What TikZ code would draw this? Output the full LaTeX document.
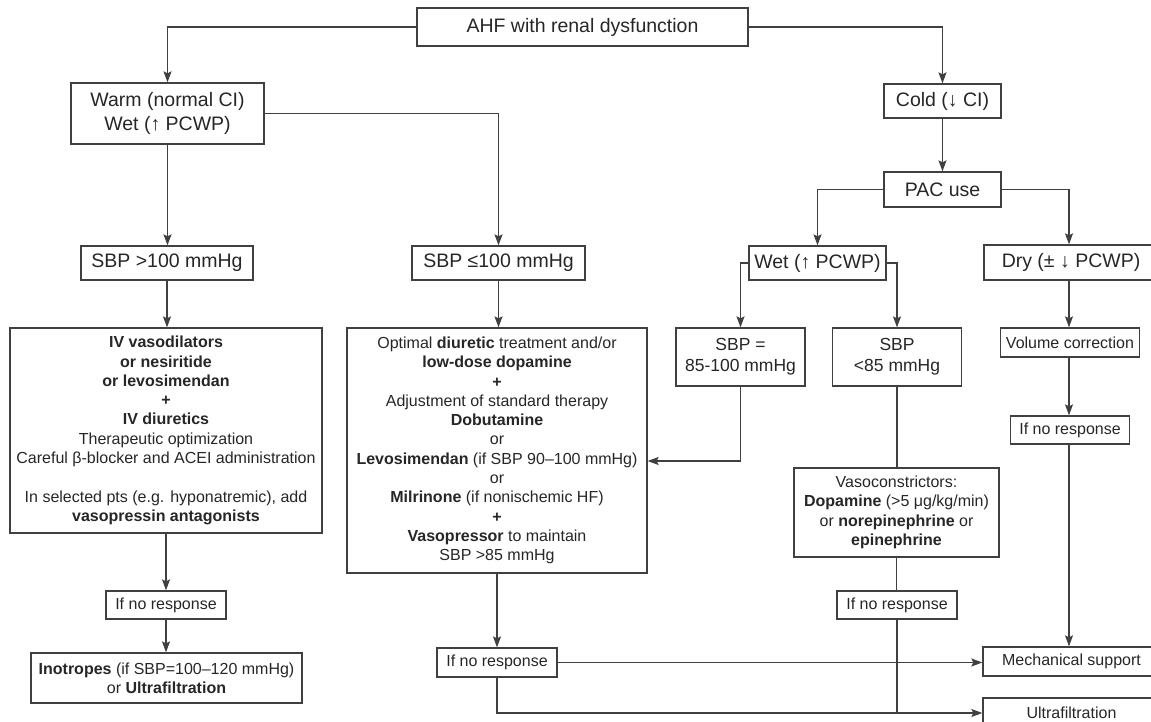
\documentclass[tikz,border=0pt]{standalone}
\usepackage{fontspec}
\setmainfont{Liberation Sans}
\usetikzlibrary{arrows.meta}
\definecolor{ink}{gray}{0.25}
\definecolor{txt}{gray}{0.15}
\begin{document}
\begin{tikzpicture}[x=1pt,y=-1pt,
  box/.style={draw=ink,line width=1.3pt,rectangle,inner sep=0pt,align=center,text=txt},
  big/.style={box,font=\fontsize{19.5}{24}\selectfont},
  mid/.style={box,font=\fontsize{17.5}{21}\selectfont},
  body/.style={box,font=\fontsize{16}{19.3}\selectfont},
  arr/.style={draw=ink,line width=1.3pt,-{Stealth[length=11pt,width=8pt,inset=2pt]}},
  ln/.style={draw=ink,line width=1.3pt}]
\useasboundingbox (0,0) rectangle (1151,722);
% top level
\node[big,minimum width=331pt,minimum height=38pt] (ahf) at (582.5,27) {AHF with renal dysfunction};
\node[big,minimum width=193pt,minimum height=61pt] (warm) at (167.5,113.5) {Warm (normal CI)\\Wet (↑ PCWP)};
\node[big,minimum width=117pt,minimum height=34pt] (cold) at (942.5,101) {Cold (↓ CI)};
\node[big,minimum width=117pt,minimum height=35pt] (pac) at (942.5,189.5) {PAC use};
% second level
\node[big,minimum width=172pt,minimum height=34pt] (sbpa) at (167,263) {SBP >100 mmHg};
\node[big,minimum width=173pt,minimum height=34pt] (sbpb) at (498.5,263) {SBP ≤100 mmHg};
\node[big,minimum width=137pt,minimum height=34pt] (wet) at (817.5,263) {Wet (↑ PCWP)};
\node[big,minimum width=174pt,minimum height=35pt] (dry) at (1071,262.5) {Dry (± ↓ PCWP)};
% third level
\node[mid,minimum width=129pt,minimum height=58pt] (sbpc) at (740.5,357) {SBP =\\85-100 mmHg};
\node[mid,minimum width=129pt,minimum height=58pt] (sbpd) at (897,357) {SBP\\<85 mmHg};
\node[body,minimum width=139pt,minimum height=29pt] (vol) at (1070,342.5) {Volume correction};
% treatment boxes
\node[body,minimum width=312pt,minimum height=205pt] (iv) at (166,430.5) {\textbf{IV vasodilators}\\\textbf{or nesiritide}\\\textbf{or levosimendan}\\\textbf{+}\\\textbf{IV diuretics}\\Therapeutic optimization\\Careful β-blocker and ACEI administration\\[19.3pt]In selected pts (e.g. hyponatremic), add\\\textbf{vasopressin antagonists}};
\node[body,minimum width=300pt,minimum height=245pt] (opt) at (497,450.5) {Optimal \textbf{diuretic} treatment and/or\\\textbf{low-dose dopamine}\\\textbf{+}\\Adjustment of standard therapy\\\textbf{Dobutamine}\\or\\\textbf{Levosimendan} (if SBP 90–100 mmHg)\\or\\\textbf{Milrinone} (if nonischemic HF)\\\textbf{+}\\\textbf{Vasopressor} to maintain\\SBP >85 mmHg};
\node[body,minimum width=205pt,minimum height=89pt] (vaso) at (896.5,512.5) {Vasoconstrictors:\\\textbf{Dopamine} (>5 μg/kg/min)\\or \textbf{norepinephrine} or\\\textbf{epinephrine}};
% no response boxes
\node[body,minimum width=120pt,minimum height=28pt] (nr1) at (166,605) {If no response};
\node[body,minimum width=120pt,minimum height=29pt] (nr2) at (497,662.5) {If no response};
\node[body,minimum width=120pt,minimum height=28pt] (nr3) at (897,605) {If no response};
\node[body,minimum width=119pt,minimum height=28pt] (nr4) at (1070,430) {If no response};
% final boxes
\node[body,minimum width=271pt,minimum height=50pt] (ino) at (166.5,678) {\textbf{Inotropes} (if SBP=100–120 mmHg)\\or \textbf{Ultrafiltration}};
\node[body,minimum width=177pt,minimum height=29pt] (mech) at (1071.5,661.5) {Mechanical support};
\node[body,minimum width=177pt,minimum height=30pt] (ultra) at (1071.5,713) {Ultrafiltration};
% connectors
\draw[arr] (ahf.west) -| (warm.north);
\draw[arr] (ahf.east) -| (cold.north);
\draw[arr] (warm.south) -- (warm.south |- sbpa.north);
\draw[arr] (warm.east) -| (sbpb.north);
\draw[arr] (cold.south) -- (pac.north);
\draw[arr] (pac.west) -| (wet.north);
\draw[arr] (pac.east) -| ([xshift=-2pt]dry.north);
\draw[arr] (sbpa.south) -- (sbpa.south |- iv.north);
\draw[arr] (sbpb.south) -- (sbpb.south |- opt.north);
\draw[arr] (wet.west) -| (sbpc.north);
\draw[arr] (wet.east) -| (sbpd.north);
\draw[arr] ([xshift=-2pt]dry.south) -- ([xshift=-2pt]dry.south |- vol.north);
\draw[arr] ([xshift=-1pt]vol.south) -- ([xshift=-1pt]vol.south |- nr4.north);
\draw[arr] ([xshift=-1pt]nr4.south) -- ([xshift=-1pt]nr4.south |- mech.north);
\coordinate (jc) at (740.5,461);
\draw[ln] (sbpc.south) -- (jc);
\draw[arr] (jc) -- (jc -| opt.east);
\draw[ln] (sbpd.south) -- (sbpd.south |- vaso.north);
\draw[ln] (vaso.south) -- (vaso.south |- nr3.north);
\draw[ln] (nr3.south) -- (nr3.south |- ultra.west);
\draw[arr] (iv.south) -- (iv.south |- nr1.north);
\draw[arr] (nr1.south) -- (nr1.south |- ino.north);
\draw[arr] (opt.south) -- (opt.south |- nr2.north);
\draw[arr] (nr2.east) -- (nr2.east -| mech.west);
\draw[arr] (nr2.south) |- (ultra.west);
\end{tikzpicture}
\end{document}
